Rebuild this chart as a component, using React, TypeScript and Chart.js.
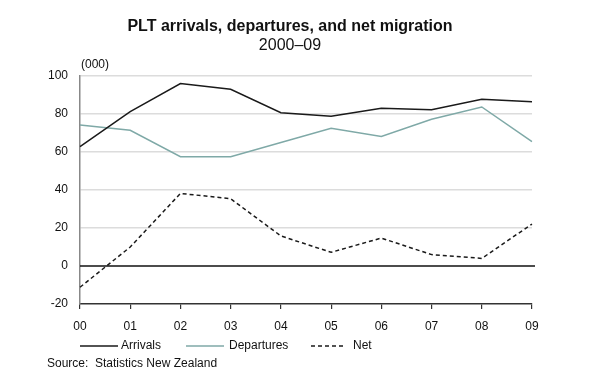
import React, { useEffect, useRef } from "react";
import { Chart, registerables } from "chart.js";

Chart.register(...registerables);

const years = ["00", "01", "02", "03", "04", "05", "06", "07", "08", "09"];
const arrivals = [62.8, 81.2, 96, 93, 80.7, 78.8, 83, 82.3, 87.7, 86.5];
const departures = [74.2, 71.4, 57.5, 57.5, 65, 72.5, 68.2, 77.2, 83.7, 65.4];
const net = [-11.2, 10, 38.2, 35.4, 15.8, 7.2, 14.7, 6, 4, 22.1];
const yTicks = [-20, 0, 20, 40, 60, 80, 100];

const titleText = "PLT arrivals, departures, and net migration";
const subtitleText = "2000–09";
const unitText = "(000)";
const sourceText = "Source:  Statistics New Zealand";
const legendNames = ["Arrivals", "Departures", "Net"];

const FONT = "'Liberation Sans', Arial, sans-serif";
const ARR_COLOR = "#1a1a1a";
const DEP_COLOR = "#7fa9a7";
const NET_COLOR = "#1a1a1a";

const textPlugin = {
  id: "textPlugin",
  afterDraw(chart: any) {
    const ctx = chart.ctx;
    const area = chart.chartArea;
    ctx.save();
    ctx.fillStyle = "#111";
    ctx.textAlign = "center";
    ctx.textBaseline = "middle";
    ctx.font = `bold 16px ${FONT}`;
    ctx.fillText(titleText, 290, 27);
    ctx.font = `16px ${FONT}`;
    ctx.fillText(subtitleText, 290, 46);
    ctx.font = `12px ${FONT}`;
    ctx.textAlign = "left";
    ctx.fillText(unitText, area.left + 1, 65);

    // legend
    const ly = 346;
    const items = [
      { x1: 80, x2: 118, tx: 121, color: ARR_COLOR, dash: [] as number[], w: 1.5 },
      { x1: 186, x2: 224, tx: 229, color: DEP_COLOR, dash: [] as number[], w: 1.5 },
      { x1: 311, x2: 343, tx: 353, color: NET_COLOR, dash: [4, 3], w: 1.5 },
    ];
    items.forEach((it, i) => {
      ctx.beginPath();
      ctx.setLineDash(it.dash);
      ctx.strokeStyle = it.color;
      ctx.lineWidth = it.w;
      ctx.moveTo(it.x1, ly);
      ctx.lineTo(it.x2, ly);
      ctx.stroke();
      ctx.fillStyle = "#111";
      ctx.fillText(legendNames[i], it.tx, ly);
    });
    ctx.setLineDash([]);
    ctx.fillText(sourceText, 47, 364);

    // zero line
    const yScale = chart.scales.y;
    const y0 = yScale.getPixelForValue(0);
    ctx.beginPath();
    ctx.strokeStyle = "#111";
    ctx.lineWidth = 1.5;
    ctx.moveTo(area.left, y0);
    ctx.lineTo(area.right + 3, y0);
    ctx.stroke();
    ctx.restore();
  },
};

export default function App() {
  const ref = useRef<HTMLCanvasElement>(null);
  useEffect(() => {
    if (!ref.current) return;
    const chart = new Chart(ref.current, {
      type: "line",
      data: {
        labels: years,
        datasets: [
          {
            label: legendNames[0],
            data: arrivals,
            borderColor: ARR_COLOR,
            borderWidth: 1.5,
            pointRadius: 0,
            tension: 0,
            order: 1,
          },
          {
            label: legendNames[1],
            data: departures,
            borderColor: DEP_COLOR,
            borderWidth: 1.5,
            pointRadius: 0,
            tension: 0,
            order: 2,
          },
          {
            label: legendNames[2],
            data: net,
            borderColor: NET_COLOR,
            borderWidth: 1.5,
            borderDash: [4, 3],
            pointRadius: 0,
            tension: 0,
            order: 0,
          },
        ],
      },
      options: {
        responsive: false,
        animation: false,
        layout: { padding: { left: 0, right: 68, top: 76, bottom: 0 } },
        plugins: {
          legend: { display: false },
          title: { display: false },
          tooltip: { enabled: false },
        },
        scales: {
          x: {
            offset: false,
            grid: {
              display: true,
              drawOnChartArea: false,
              drawTicks: true,
              tickLength: 5,
              color: "#333",
              lineWidth: 1.2,
            },
            border: { display: true, color: "#333", width: 1.5 },
            ticks: {
              color: "#111",
              font: { family: FONT, size: 12 },
              padding: 10,
              maxRotation: 0,
              autoSkip: false,
            },
            afterFit(scale: any) {
              scale.height = 70;
            },
          },
          y: {
            min: -20,
            max: 100,
            afterBuildTicks(scale: any) {
              scale.ticks = yTicks.map((v) => ({ value: v }));
            },
            grid: {
              display: true,
              drawTicks: false,
              color: (c: any) => (c.tick && (c.tick.value === 0 || c.tick.value === -20) ? "rgba(0,0,0,0)" : "#dcdcdc"),
              lineWidth: 1.5,
            },
            border: { display: true, color: "#888", width: 1.5 },
            ticks: {
              color: "#111",
              font: { family: FONT, size: 12 },
              padding: 12,
            },
            afterFit(scale: any) {
              scale.width = 80;
            },
          },
        },
      },
      plugins: [textPlugin],
    });
    return () => chart.destroy();
  }, []);
  return (
    <div style={{ position: "absolute", left: 0, top: 0, width: 600, height: 374, background: "#fff" }}>
      <canvas ref={ref} width={600} height={374} />
    </div>
  );
}
